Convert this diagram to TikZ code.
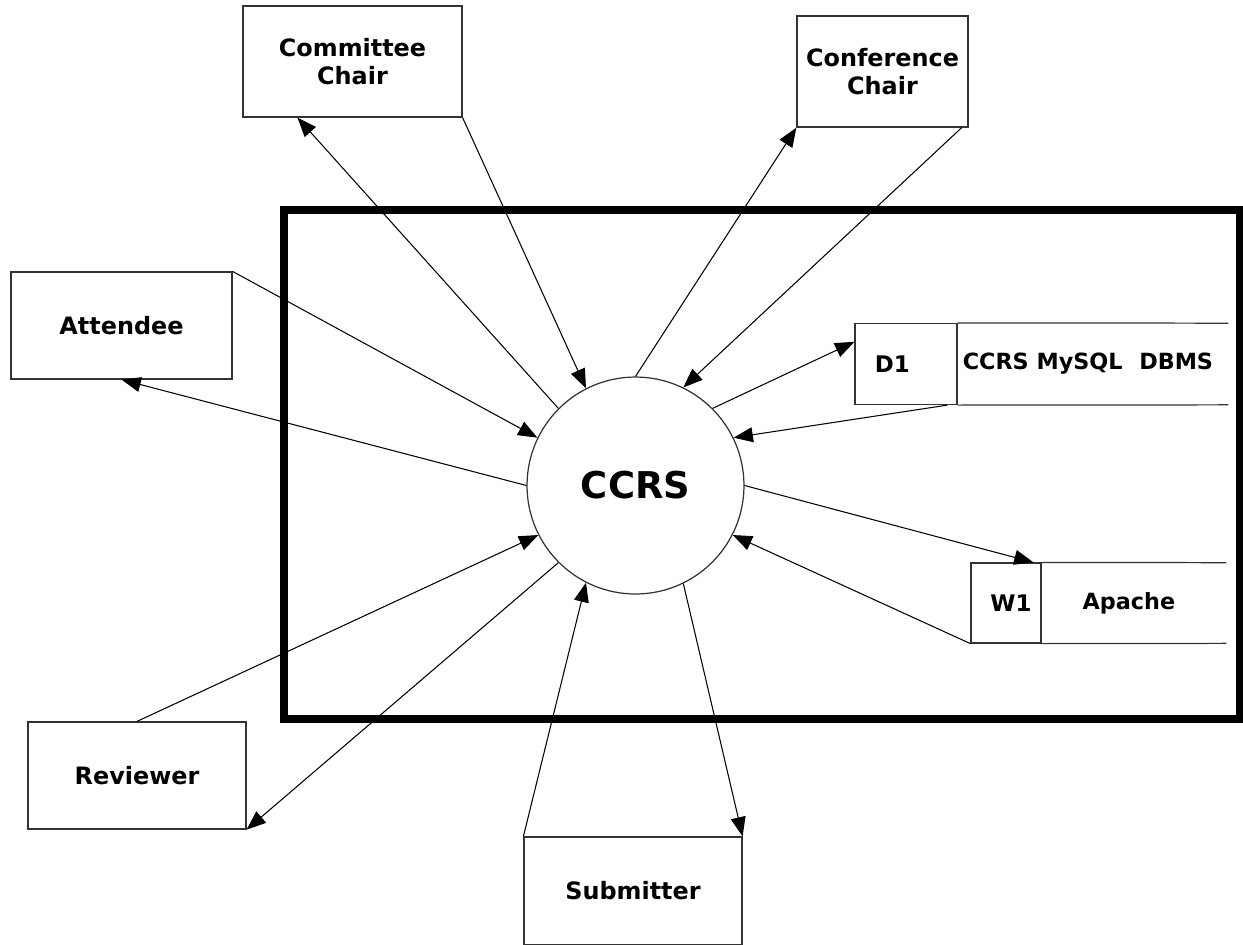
\documentclass[tikz,border=0pt]{standalone}
\usepackage{fontspec}
\setmainfont{DejaVu Sans}
\usetikzlibrary{positioning,shapes,arrows.meta,calc}

\begin{document}
\begin{tikzpicture}[x=0.02cm,y=-0.02cm]
\tikzset{
    entity/.style={rectangle, draw=black!80, line width=0.7pt, fill=white, align=center, inner sep=0pt, font=\bfseries\fontsize{13.6pt}{16pt}\selectfont},
    process/.style={circle, draw=black!80, line width=0.7pt, fill=white, inner sep=0pt, minimum size=4.34cm, font=\bfseries\fontsize{21pt}{25pt}\selectfont},
    storeid/.style={rectangle, draw=black!80, line width=0.7pt, inner sep=0pt, minimum height=1.62cm, font=\bfseries\fontsize{13pt}{16pt}\selectfont},
    storename/.style={rectangle, inner sep=0pt, minimum height=1.62cm, font=\bfseries\fontsize{12.7pt}{16pt}\selectfont},
    flow/.style={line width=0.6pt, -{Triangle[length=11pt,width=8.5pt]}}
}
\useasboundingbox (0,0) rectangle (1243,944);

% system boundary
\draw[line width=4.5pt] (284,210) rectangle (1239.5,719);

\node[process] (ccrs) at (635.5,485.5) {CCRS};

\node[entity, minimum width=4.38cm, minimum height=2.22cm] (comm) at (352.5,61.5) {Committee\\Chair};
\node[entity, minimum width=3.42cm, minimum height=2.22cm] (conf) at (882.5,71.5) {Conference\\Chair};
\node[entity, minimum width=4.42cm, minimum height=2.14cm] (att) at (121.5,325.5) {Attendee};
\node[entity, minimum width=4.36cm, minimum height=2.14cm] (rev) at (137,775.5) {Reviewer};
\node[entity, minimum width=4.36cm, minimum height=2.16cm] (sub) at (633,891) {Submitter};

% data stores
\node[storeid, minimum width=2.04cm] (d1) at (906,364) {D1\kern0.55cm};
\node[storename, minimum width=5.4cm, right=0pt of d1] (dbms) {CCRS MySQL\hspace{0.4em} DBMS\kern0.2cm};
\draw[line width=0.7pt, black!80] (d1.north east) -- (dbms.north east);
\draw[line width=0.7pt, black!80] (d1.south east) -- (dbms.south east);

\node[storeid, minimum width=1.4cm, minimum height=1.6cm] (w1) at (1006,603) {\kern0.2cm W1};
\node[storename, minimum width=3.68cm, minimum height=1.6cm, right=0pt of w1] (apache) {Apache\kern0.2cm};
\draw[line width=0.7pt, black!80] (w1.north east) -- (apache.north east);
\draw[line width=0.7pt, black!80] (w1.south east) -- (apache.south east);

% flows
\draw[flow] (ccrs.135) -- ($(comm.south west)!0.25!(comm.south east)$);
\draw[flow] (comm.south east) -- (ccrs.117);
\draw[flow] (ccrs.90) -- (conf.south west);
\draw[flow] ($(conf.south west)!0.96!(conf.south east)$) -- (ccrs.64);
\draw[flow] (att.north east) -- (ccrs.154);
\draw[flow] (ccrs.180) -- (att.south);
\draw[flow] (ccrs.45) -- ($(d1.north west)!0.23!(d1.south west)$);
\draw[flow] ($(d1.south west)!0.9!(d1.south east)$) -- (ccrs.26);
\draw[flow] (ccrs.0) -- ($(w1.north west)!0.886!(w1.north east)$);
\draw[flow] (w1.south west) -- (ccrs.333);
\draw[flow] ($(rev.north west)!0.5!(rev.north east)$) -- (ccrs.207);
\draw[flow] (ccrs.225) -- (rev.south east);
\draw[flow] (sub.north west) -- (ccrs.243);
\draw[flow] (ccrs.296) -- (sub.north east);
\end{tikzpicture}
\end{document}
